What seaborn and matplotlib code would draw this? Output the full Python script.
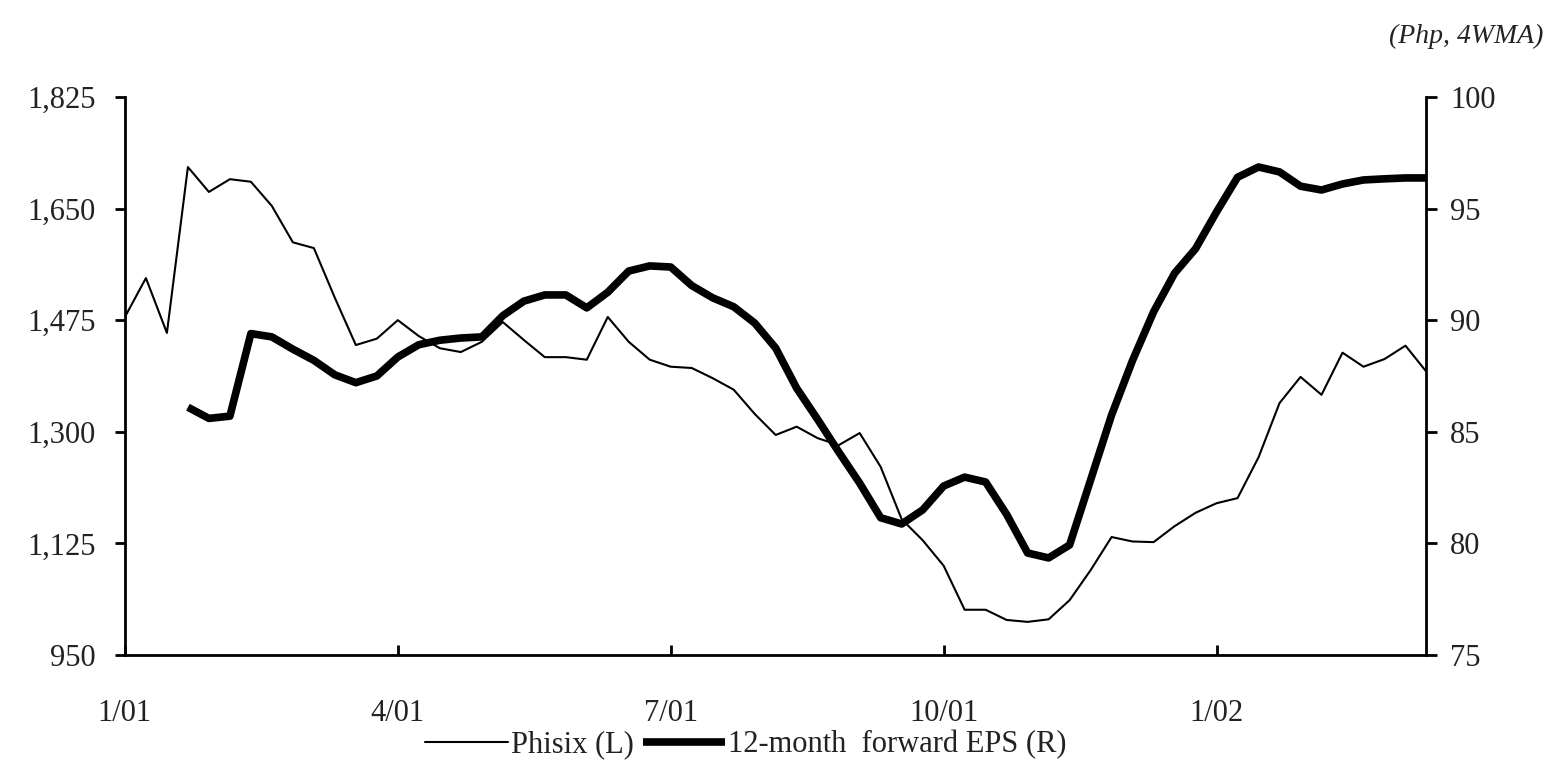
import numpy as np
import matplotlib.pyplot as plt
import pandas as pd
import seaborn as sns

# weekly observations (4WMA), first week of Jan 2001 to mid-Mar 2002
phisix = [1480, 1541, 1455, 1715, 1676, 1696, 1692, 1654, 1597, 1588,
          1510, 1436, 1446, 1475, 1450, 1431, 1425, 1441, 1472, 1444,
          1417, 1417, 1413, 1480, 1441, 1413, 1402, 1400, 1384, 1366,
          1328, 1295, 1308, 1290, 1279, 1298, 1245, 1163, 1130, 1090,
          1021, 1021, 1005, 1002, 1006, 1036, 1083, 1135, 1128, 1127,
          1152, 1173, 1188, 1196, 1260, 1345, 1386, 1358, 1424, 1402,
          1414, 1435, 1394]

eps = [None, None, None, 86.1, 85.6, 85.7, 89.4, 89.25, 88.7, 88.2,
       87.55, 87.2, 87.5, 88.35, 88.9, 89.1, 89.2, 89.25, 90.2, 90.85,
       91.13, 91.13, 90.55, 91.25, 92.2, 92.43, 92.38, 91.55, 91.0, 90.6,
       89.87, 88.75, 86.95, 85.55, 84.1, 82.7, 81.15, 80.87, 81.5, 82.57,
       82.97, 82.75, 81.3, 79.57, 79.35, 79.93, 82.84, 85.75, 88.2, 90.37,
       92.1, 93.2, 94.85, 96.4, 96.86, 96.64, 96.0, 95.83, 96.1, 96.28,
       96.33, 96.37, 96.37]

week_ticks = [0, 13, 26, 39, 52]
week_labels = ['1/01', '4/01', '7/01', '10/01', '1/02']
left_ticks = [950, 1125, 1300, 1475, 1650, 1825]
left_labels = ['950', '1,125', '1,300', '1,475', '1,650', '1,825']
right_ticks = [75, 80, 85, 90, 95, 100]

df = pd.DataFrame({'week': np.arange(len(phisix)), 'phisix': phisix,
                   'eps': pd.to_numeric(pd.Series(eps), errors='coerce')})

sns.set_style('white')
plt.rcParams['font.family'] = ['Liberation Serif', 'DejaVu Serif']
txt = '#222222'

fig = plt.figure(figsize=(15.48, 7.63), dpi=100)
ax = fig.add_axes([0.0807, 0.1415, 0.8408, 0.7315])
ax2 = ax.twinx()

sns.lineplot(ax=ax, data=df, x='week', y='phisix', color='black', linewidth=1.5,
             label='Phisix (L)', legend=False, solid_joinstyle='round')
sns.lineplot(ax=ax2, data=df.dropna(), x='week', y='eps', color='black', linewidth=5.5,
             label='12-month  forward EPS (R)', legend=False,
             solid_joinstyle='round', solid_capstyle='butt')

ax.set_xlim(0, len(phisix) - 1)
ax.set_ylim(950, 1825)
ax2.set_ylim(75, 100)

ax.set_xticks(week_ticks)
ax.set_xticklabels(week_labels)
ax.set_yticks(left_ticks)
ax.set_yticklabels(left_labels)
ax2.set_yticks(right_ticks)
ax2.set_yticklabels([str(t) for t in right_ticks])

ax.set_xlabel('')
ax.set_ylabel('')
ax2.set_ylabel('')

for a in (ax, ax2):
    a.spines['top'].set_visible(False)
    for s in a.spines.values():
        s.set_linewidth(2)
        s.set_color('black')
ax2.spines['left'].set_visible(False)
ax2.spines['bottom'].set_visible(False)
ax.spines['right'].set_visible(False)

ax.tick_params(axis='y', direction='out', length=7, width=2, color='black',
               labelsize=22, labelcolor=txt, pad=14, left=True)
ax.tick_params(axis='x', direction='in', length=7, width=2, color='black',
               labelsize=22, labelcolor=txt, pad=32, bottom=True)
ax2.tick_params(axis='y', direction='out', length=8, width=2, color='black',
                labelsize=22, labelcolor=txt, pad=9, right=True)

handles = ax.get_lines()[:1] + ax2.get_lines()[:1]
fig.legend(handles, [h.get_label() for h in handles], loc='center',
           bbox_to_anchor=(0.482, 0.024), ncol=2, frameon=False, fontsize=22,
           handlelength=2.7, handletextpad=0.1, columnspacing=0.3,
           labelcolor=txt, borderpad=0.1)

fig.text(0.997, 0.952, '(Php, 4WMA)', ha='right', va='center', fontsize=20,
         style='italic', color=txt)

fig.savefig('out.png', dpi=100, facecolor='white')
